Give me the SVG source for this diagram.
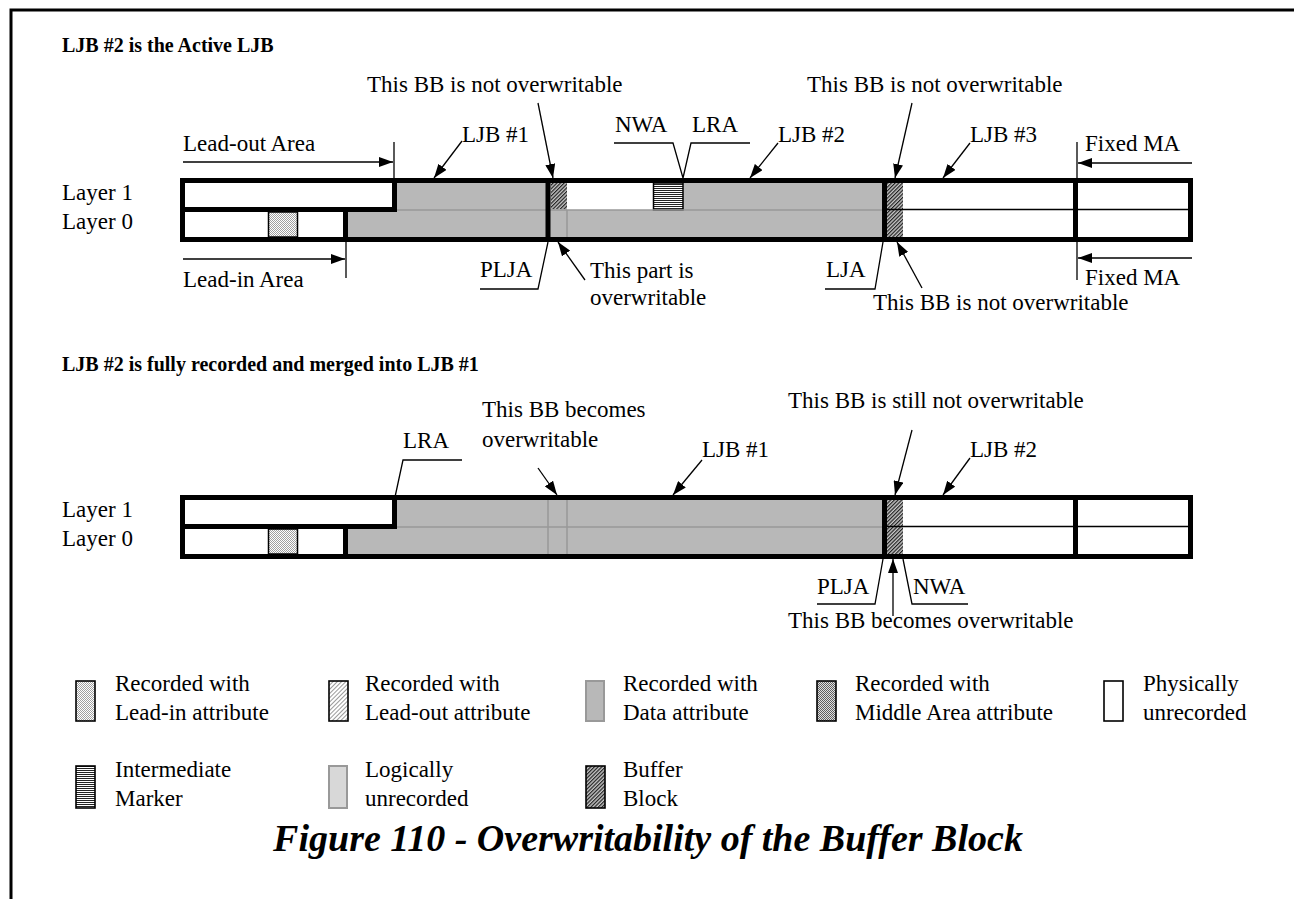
<svg xmlns="http://www.w3.org/2000/svg" width="1294" height="899" viewBox="0 0 1294 899">
<style>
text{font-family:"Liberation Serif","Times New Roman",serif;font-size:23px;fill:#000}
.h{font-weight:bold;font-size:20px}
.cap{font-weight:bold;font-style:italic;font-size:38px}
.ln{stroke:#000;stroke-width:1.3;fill:none}
.ar{stroke:#000;stroke-width:1.3;fill:none;marker-end:url(#ah)}
.blk{stroke:#000;stroke-width:5;fill:none}
.gl{stroke:#999;stroke-width:1.5;fill:none}
.gray{fill:#b8b8b8}
.ic{stroke:#000;stroke-width:1.6}
.icg{stroke:#999;stroke-width:2}
</style>
<defs>
<marker id="ah" viewBox="0 0 14 10" refX="14" refY="5" markerWidth="14" markerHeight="10" markerUnits="userSpaceOnUse" orient="auto"><path d="M0,0 L14,5 L0,10 Z" fill="#000"/></marker>
<pattern id="stip" width="2" height="2" patternUnits="userSpaceOnUse"><rect width="2" height="2" fill="#fff"/><rect width="1" height="1" fill="#a0a0a0"/><rect x="1" y="1" width="1" height="1" fill="#a0a0a0"/></pattern>
<pattern id="mid" width="2" height="2" patternUnits="userSpaceOnUse"><rect width="2" height="2" fill="#e0e0e0"/><rect width="1" height="1" fill="#606060"/><rect x="1" y="1" width="1" height="1" fill="#606060"/></pattern>
<pattern id="hatchL" width="3" height="3" patternUnits="userSpaceOnUse" patternTransform="rotate(45)"><rect width="3" height="3" fill="#fff"/><rect width="1" height="3" fill="#9a9a9a"/></pattern>
<pattern id="hatchD" width="2.6" height="2.6" patternUnits="userSpaceOnUse" patternTransform="rotate(45)"><rect width="2.6" height="2.6" fill="#c8c8c8"/><rect width="1.2" height="2.6" fill="#202020"/></pattern>
<pattern id="stripe" width="4" height="2" patternUnits="userSpaceOnUse"><rect width="4" height="2" fill="#fff"/><rect width="4" height="1" fill="#222"/></pattern>
</defs>

<g id="frame"><path d="M11,899 V10 H1294" stroke="#000" stroke-width="3" fill="none"/></g>

<g id="top-section">
<text class="h" x="62" y="52">LJB #2 is the Active LJB</text>
<text x="62" y="200">Layer 1</text>
<text x="62" y="229">Layer 0</text>
<g id="bar-top">
<rect x="180" y="178" width="1013" height="64" fill="#fff"/>
<rect x="397" y="183" width="485" height="27" class="gray"/>
<rect x="348" y="210" width="534" height="27" class="gray"/>
<rect x="567" y="183" width="86" height="27" fill="#fff"/>
<rect x="551" y="183" width="16" height="26" fill="url(#hatchD)"/>
<rect x="653.5" y="183" width="29.5" height="27" fill="url(#stripe)" stroke="#000" stroke-width="1.5"/>
<rect x="887" y="183" width="16" height="54" fill="url(#hatchD)"/>
<rect x="268.5" y="212" width="29" height="25" fill="url(#stip)" stroke="#000" stroke-width="1.5"/>
<line x1="397" y1="210" x2="882" y2="210" class="gl"/>
<line x1="567" y1="210" x2="567" y2="237" class="gl"/>
<line x1="887" y1="209.5" x2="1188" y2="209.5" stroke="#000" stroke-width="1.5"/>
<rect x="182.5" y="180.5" width="1008" height="59" class="blk"/>
<path d="M180,209.5 H394.5 V180 M345.5,209.5 V240 M548,180 V240 M884.5,180 V240 M1075.5,180 V240" class="blk"/>
</g>
<g id="connectors-top">
<text x="367" y="92">This BB is not overwritable</text>
<line x1="538" y1="103" x2="553" y2="178" class="ar"/>
<text x="462" y="142">LJB #1</text>
<line x1="462" y1="141" x2="434" y2="178" class="ar"/>
<text x="183" y="151">Lead-out Area</text>
<line x1="183" y1="162" x2="393" y2="162" class="ar"/>
<line x1="394" y1="142" x2="394" y2="178" class="ln"/>
<text x="615" y="132">NWA</text>
<text x="692" y="132">LRA</text>
<path d="M614,143 H673 L683,178 L691,143 H750" class="ln"/>
<text x="778" y="142">LJB #2</text>
<line x1="778" y1="143" x2="750" y2="178" class="ar"/>
<text x="807" y="92">This BB is not overwritable</text>
<line x1="912" y1="103" x2="895" y2="178" class="ar"/>
<text x="970" y="142">LJB #3</text>
<line x1="970" y1="143" x2="943" y2="178" class="ar"/>
<text x="1085" y="151">Fixed MA</text>
<line x1="1192" y1="163" x2="1078" y2="163" class="ar"/>
<line x1="1077" y1="142" x2="1077" y2="178" class="ln"/>
<text x="480" y="277">PLJA</text>
<path d="M480,289 H538 L548,242" class="ln"/>
<text x="590" y="278">This part is</text>
<text x="590" y="305">overwritable</text>
<line x1="585" y1="280" x2="558" y2="242" class="ar"/>
<text x="826" y="277">LJA</text>
<path d="M825,289 H875 L883,242" class="ln"/>
<text x="873" y="310">This BB is not overwritable</text>
<line x1="922" y1="288" x2="897" y2="242" class="ar"/>
<text x="1085" y="285">Fixed MA</text>
<line x1="1192" y1="258" x2="1078" y2="258" class="ar"/>
<line x1="1077" y1="242" x2="1077" y2="280" class="ln"/>
<text x="183" y="287">Lead-in Area</text>
<line x1="183" y1="259" x2="345" y2="259" class="ar"/>
<line x1="346" y1="242" x2="346" y2="278" class="ln"/>
</g>
</g>

<g id="bottom-section">
<text class="h" x="62" y="371">LJB #2 is fully recorded and merged into LJB #1</text>
<text x="62" y="517">Layer 1</text>
<text x="62" y="546">Layer 0</text>
<g id="bar-bottom">
<rect x="180" y="495" width="1013" height="64" fill="#fff"/>
<rect x="397" y="500" width="485" height="27" class="gray"/>
<rect x="348" y="527" width="534" height="27" class="gray"/>
<rect x="887" y="500" width="16" height="54" fill="url(#hatchD)"/>
<rect x="268.5" y="529" width="29" height="25" fill="url(#stip)" stroke="#000" stroke-width="1.5"/>
<line x1="397" y1="527" x2="882" y2="527" class="gl"/>
<line x1="548" y1="500" x2="548" y2="554" class="gl"/>
<line x1="567" y1="500" x2="567" y2="554" class="gl"/>
<line x1="887" y1="526.5" x2="1188" y2="526.5" stroke="#000" stroke-width="1.5"/>
<rect x="182.5" y="497.5" width="1008" height="59" class="blk"/>
<path d="M180,526.5 H394.5 V497 M345.5,526.5 V557 M884.5,497 V557 M1075.5,497 V557" class="blk"/>
</g>
<g id="connectors-bottom">
<text x="403" y="448">LRA</text>
<path d="M462,460 H403 L395,497" class="ln"/>
<text x="482" y="417">This BB becomes</text>
<text x="482" y="447">overwritable</text>
<line x1="538" y1="468" x2="557" y2="495" class="ar"/>
<text x="702" y="457">LJB #1</text>
<line x1="702" y1="460" x2="673" y2="495" class="ar"/>
<text x="788" y="408">This BB is still not overwritable</text>
<line x1="912" y1="430" x2="895" y2="495" class="ar"/>
<text x="970" y="457">LJB #2</text>
<line x1="970" y1="458" x2="943" y2="495" class="ar"/>
<text x="817" y="594">PLJA</text>
<path d="M817,604 H875 L883,559" class="ln"/>
<line x1="893" y1="616" x2="893" y2="559" class="ar"/>
<text x="913" y="594">NWA</text>
<path d="M903,559 L912,604 H968" class="ln"/>
<text x="788" y="628">This BB becomes overwritable</text>
</g>
</g>

<g id="legend">
<g id="lg-leadin"><rect x="76" y="681" width="19" height="40" fill="url(#stip)" class="ic"/><text x="115" y="691">Recorded with</text><text x="115" y="720">Lead-in attribute</text></g>
<g id="lg-leadout"><rect x="329" y="681" width="19" height="40" fill="url(#hatchL)" class="ic"/><text x="365" y="691">Recorded with</text><text x="365" y="720">Lead-out attribute</text></g>
<g id="lg-data"><rect x="586" y="681" width="18" height="40" fill="#b8b8b8" class="icg"/><text x="623" y="691">Recorded with</text><text x="623" y="720">Data attribute</text></g>
<g id="lg-middle"><rect x="817" y="681" width="19" height="40" fill="url(#mid)" class="ic"/><text x="855" y="691">Recorded with</text><text x="855" y="720">Middle Area attribute</text></g>
<g id="lg-phys"><rect x="1104" y="681" width="19" height="40" fill="#fff" class="ic"/><text x="1143" y="691">Physically</text><text x="1143" y="720">unrecorded</text></g>
<g id="lg-inter"><rect x="76" y="766" width="19" height="42" fill="url(#stripe)" class="ic"/><text x="115" y="777">Intermediate</text><text x="115" y="806">Marker</text></g>
<g id="lg-logic"><rect x="329" y="766" width="18" height="42" fill="#d8d8d8" class="icg"/><text x="365" y="777">Logically</text><text x="365" y="806">unrecorded</text></g>
<g id="lg-buffer"><rect x="586" y="766" width="19" height="42" fill="url(#hatchD)" class="ic"/><text x="623" y="777">Buffer</text><text x="623" y="806">Block</text></g>
</g>

<text class="cap" x="648" y="851" text-anchor="middle">Figure 110 - Overwritability of the Buffer Block</text>
</svg>
